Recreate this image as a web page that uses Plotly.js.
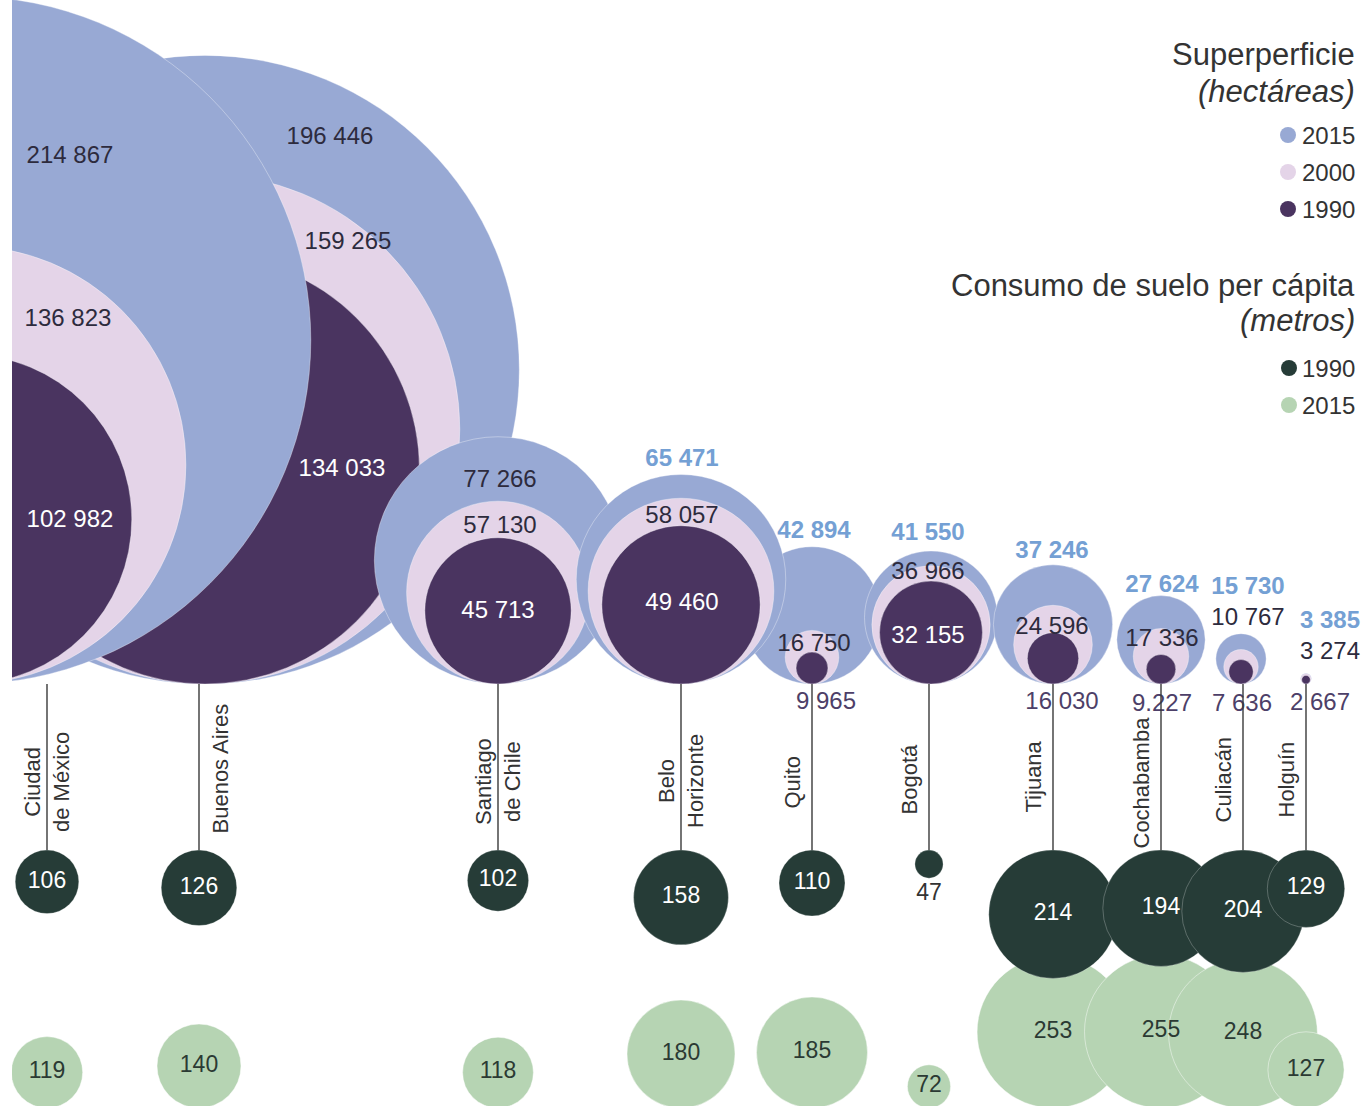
<!DOCTYPE html>
<html>
<head>
<meta charset="utf-8">
<script src="https://cdn.plot.ly/plotly-3.0.1.min.js"></script>
<style>
html,body{margin:0;padding:0;background:#ffffff;}
#chart{width:1364px;height:1106px;}
</style>
</head>
<body>
<div id="chart"></div>
<script>
// ---------------- DATA ----------------
const cities = ['Ciudad de México','Buenos Aires','Santiago de Chile','Belo Horizonte','Quito','Bogotá','Tijuana','Cochabamba','Culiacán','Holguín'];
const cityLabels = ['Ciudad<br>de México','Buenos Aires','Santiago<br>de Chile','Belo<br>Horizonte','Quito','Bogotá','Tijuana','Cochabamba','Culiacán','Holguín'];
// Superficie (hectáreas)
const area2015 = [214867,196446,77266,65471,42894,41550,37246,27624,15730,3385];
const area2000 = [136823,159265,57130,58057,16750,36966,24596,17336,10767,3274];
const area1990 = [102982,134033,45713,49460,9965,32155,16030,9227,7636,2667];
// Consumo de suelo per cápita (metros)
const perCapita1990 = [106,126,102,158,110,47,214,194,204,129];
const perCapita2015 = [119,140,118,180,185,72,253,255,248,127];
// label as printed in the source (Cochabamba 1990 printed with a period)
const label1990Override = {7:'9.227'};

// ---------------- LAYOUT / POSITIONS ----------------
const stemX   = [47,199,498,681,812,929,1053,1161,1243,1306];   // x of each city stem
const bubbleX = [-33,205,498,681,812,931,1053,1161,1241,1306];  // x of bubble centres
const K_AREA = 0.0016;    // px radius per hectare
const K_CAP  = 0.3;       // px radius per metre
const BUBBLE_BASE = 684;  // bubbles sit on this line
const ROW1_TOP = 850;     // 1990 per-capita row hangs from this line
const ROW2_BASE = 1108;   // 2015 per-capita row sits on this line
const drawOrder = [1,0,4,2,3,5,6,7,8,9];

// label positions for the area bubbles
const lab2015X = [70,330,500,682,814,928,1052,1162,1248,1330];
const lab2015Y = [157,138,481,460,532,534,552,586,588,622];
const lab2000X = [68,348,500,682,814,928,1052,1162,1248,1330];
const lab2000Y = [320,243,527,517,645,573,628,640,619,653];
const lab1990X = [70,342,498,682,826,928,1062,1162,1242,1320];
const lab1990Y = [521,470,612,604,703,637,703,705,705,704];
const lab1990Inside = [true,true,true,true,false,true,false,false,false,false];
const lab2015Dark = [true,true,true,false,false,false,false,false,false,false];

// styles
const C2015 = '#98a9d4', C2000 = '#e4d4e8', C1990 = '#4a3460';
const CG1990 = '#263c37', CG2015 = '#b6d4b3';
const TXT_DARK = '#2d2b3d', TXT_BLUE = '#74a0d4', TXT_PURPLE = '#4d3f68', TXT = '#333333';
const FONT = 'Liberation Sans, Arial, Helvetica, sans-serif';

const fmt = v => String(v).replace(/\B(?=(\d{3})+(?!\d))/g, ' ');

const traces = [];

// ---- area bubbles (2015, 2000, 1990 nested, sitting on baseline) ----
drawOrder.forEach(i => {
  const vals = [area2015[i], area2000[i], area1990[i]];
  traces.push({
    type:'scatter', mode:'markers', hoverinfo:'skip', cliponaxis:true,
    x: vals.map(() => bubbleX[i]),
    y: vals.map(v => BUBBLE_BASE - K_AREA * v),
    marker:{
      size: vals.map(v => 2 * K_AREA * v), sizemode:'diameter', sizeref:1,
      color:[C2015, C2000, C1990], opacity:1,
      line:{width:1, color:'rgba(255,255,255,0.35)'}
    }
  });
});

// ---- area labels ----
traces.push({
  type:'scatter', mode:'text', hoverinfo:'skip',
  x: lab2015X, y: lab2015Y, text: area2015.map(fmt),
  textposition:'middle center',
  textfont:{family:FONT, size:24, color: lab2015Dark.map(d => d ? TXT_DARK : TXT_BLUE),
            weight: lab2015Dark.map(d => d ? 400 : 700)}
});
traces.push({
  type:'scatter', mode:'text', hoverinfo:'skip',
  x: lab2000X, y: lab2000Y, text: area2000.map(fmt),
  textposition:'middle center',
  textfont:{family:FONT, size:24, color: TXT_DARK}
});
traces.push({
  type:'scatter', mode:'text', hoverinfo:'skip',
  x: lab1990X, y: lab1990Y,
  text: area1990.map((v,i) => label1990Override[i] || fmt(v)),
  textposition:'middle center',
  textfont:{family:FONT, size:24, color: lab1990Inside.map(b => b ? '#ffffff' : TXT_PURPLE)}
});

// ---- per-capita 2015 row (bottom) ----
traces.push({
  type:'scatter', mode:'markers+text', hoverinfo:'skip',
  x: stemX, y: perCapita2015.map(v => ROW2_BASE - K_CAP * v),
  marker:{size: perCapita2015.map(v => 2 * K_CAP * v), sizemode:'diameter', sizeref:1,
          color: CG2015, opacity:1, line:{width:1, color:'rgba(255,255,255,0.45)'}},
  text: perCapita2015.map(String), textposition:'middle center',
  textfont:{family:FONT, size:23, color:'#2b3a33'}
});

// ---- per-capita 1990 row (hanging from stems) ----
traces.push({
  type:'scatter', mode:'markers+text', hoverinfo:'skip',
  x: stemX, y: perCapita1990.map(v => ROW1_TOP + K_CAP * v),
  marker:{size: perCapita1990.map(v => 2 * K_CAP * v), sizemode:'diameter', sizeref:1,
          color: CG1990, opacity:1, line:{width:1, color:'rgba(255,255,255,0.25)'}},
  text: perCapita1990.map(String),
  textposition: perCapita1990.map(v => (K_CAP * v < 20 ? 'bottom center' : 'middle center')),
  textfont:{family:FONT, size:23, color: perCapita1990.map(v => (K_CAP * v < 20 ? TXT : '#ffffff'))}
});

// ---- stems ----
const sx = [], sy = [];
stemX.forEach(x => { sx.push(x, x, null); sy.push(BUBBLE_BASE, ROW1_TOP, null); });
traces.push({type:'scatter', mode:'lines', hoverinfo:'skip', x:sx, y:sy,
  line:{color:'#3a3a3a', width:1.4}});

// ---- legend keys ----
const legendKeyY = [135,172,209,368,405];
traces.push({type:'scatter', mode:'markers', hoverinfo:'skip',
  x:[1288,1288,1288,1289,1289], y:legendKeyY,
  marker:{size:16, opacity:1, color:[C2015,C2000,C1990,CG1990,CG2015]}});

// ---------------- ANNOTATIONS ----------------
const annotations = [];
// city names (rotated)
const cityAnchor = ['center','left','center','center','right','right','right','right','right','right'];
const cityY = [782,769,782,781,782,780,777,783,780,780];
cityLabels.forEach((t,i) => {
  let x = stemX[i];
  if (cityAnchor[i] === 'left') x = stemX[i] + 6;
  if (cityAnchor[i] === 'right') x = stemX[i] - 6;
  annotations.push({
    xref:'x', yref:'y', x:x, y:cityY[i], text:t, showarrow:false, textangle:-90,
    xanchor:cityAnchor[i], yanchor:'middle', align:'center',
    font:{family:FONT, size:22, color:TXT}
  });
});
// legend texts
const legTexts = [
  {t:'Superperficie', y:54, s:31},
  {t:'<i>(hectáreas)</i>', y:91, s:31},
  {t:'2015', y:135, s:24},
  {t:'2000', y:172, s:24},
  {t:'1990', y:209, s:24},
  {t:'Consumo de suelo per cápita', y:285, s:31},
  {t:'<i>(metros)</i>', y:320, s:31},
  {t:'1990', y:368, s:24},
  {t:'2015', y:405, s:24}
];
legTexts.forEach(o => annotations.push({
  xref:'x', yref:'y', x:1357, y:o.y, text:o.t, showarrow:false,
  xanchor:'right', yanchor:'middle', font:{family:FONT, size:o.s, color:TXT}
}));

const layout = {
  width:1364, height:1106,
  margin:{l:12, r:0, t:0, b:0, pad:0},
  paper_bgcolor:'#ffffff', plot_bgcolor:'#ffffff',
  showlegend:false,
  xaxis:{range:[12,1364], visible:false, showgrid:false, zeroline:false, fixedrange:true},
  yaxis:{range:[1106,0], visible:false, showgrid:false, zeroline:false, fixedrange:true},
  font:{family:FONT},
  annotations:annotations
};

Plotly.newPlot('chart', traces, layout, {displayModeBar:false, staticPlot:true});
</script>
</body>
</html>
